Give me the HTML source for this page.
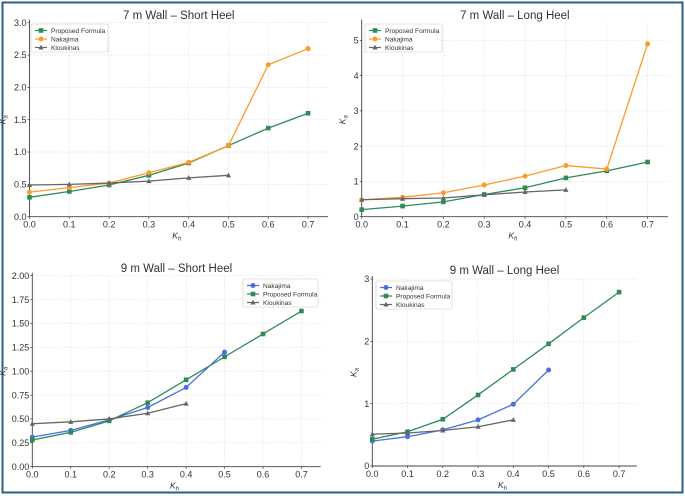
<!DOCTYPE html>
<html><head><meta charset="utf-8">
<style>
body{margin:0;background:#fff;}
svg{display:block;font-family:"Liberation Sans",sans-serif;}
</style></head>
<body>
<svg id="fig" width="685" height="496" viewBox="0 0 685 496" xmlns="http://www.w3.org/2000/svg">
<rect x="0" y="0" width="685" height="496" fill="#fff"/>
<rect x="2.5" y="2.5" width="680" height="490" fill="none" stroke="#2f5f80" stroke-width="2"/>
</svg>
<script>
const xCats=[0,0.1,0.2,0.3,0.4,0.5,0.6,0.7];
const p1Proposed=[0.30,0.39,0.49,0.64,0.83,1.10,1.37,1.60];
const p1Nakajima=[0.38,0.45,0.52,0.68,0.84,1.10,2.35,2.60];
const p1Kloukinas=[0.49,0.50,0.52,0.55,0.60,0.64];
const p2Proposed=[0.20,0.30,0.42,0.63,0.82,1.10,1.30,1.55];
const p2Nakajima=[0.48,0.55,0.68,0.90,1.15,1.45,1.35,4.90];
const p2Kloukinas=[0.48,0.51,0.53,0.62,0.70,0.76];
const p3Nakajima=[0.31,0.38,0.49,0.62,0.83,1.20];
const p3Proposed=[0.28,0.36,0.48,0.67,0.91,1.15,1.39,1.63];
const p3Kloukinas=[0.45,0.47,0.50,0.56,0.66];
const p4Nakajima=[0.40,0.47,0.58,0.74,0.99,1.54];
const p4Proposed=[0.43,0.55,0.75,1.14,1.55,1.96,2.38,2.79];
const p4Kloukinas=[0.51,0.53,0.57,0.63,0.74];
const xTicks=["0.0","0.1","0.2","0.3","0.4","0.5","0.6","0.7"];
const p1YTicks=["0.0","0.5","1.0","1.5","2.0","2.5","3.0"];
const p2YTicks=["0","1","2","3","4","5"];
const p3YTicks=["0.00","0.25","0.50","0.75","1.00","1.25","1.50","1.75","2.00"];
const p4YTicks=["0","1","2","3"];

const NS="http://www.w3.org/2000/svg";
const svg=document.getElementById('fig');
const C={green:"#2e8b57",orange:"#ff9a2a",gray:"#666666",blue:"#4a6fe3"};
function mk(tag,attrs,parent){const e=document.createElementNS(NS,tag);for(const k in attrs)e.setAttribute(k,attrs[k]);(parent||svg).appendChild(e);return e;}
function marker(g,type,x,y,color){
  let m;
  if(type==='s'){m=mk('rect',{x:x-2.3,y:y-2.3,width:4.6,height:4.6,fill:color},g);}
  else if(type==='o'){m=mk('circle',{cx:x,cy:y,r:2.5,fill:color},g);}
  else {m=mk('polygon',{points:`${x},${y-2.8} ${x-2.6},${y+2} ${x+2.6},${y+2}`,fill:color},g);}
  return m;
}
function panel(cfg){
  const g=mk('g',{});
  
  
  const sx=v=>cfg.x0+(v/0.75)*(cfg.x1-cfg.x0);
  const sy=v=>cfg.y0-(v/cfg.ymax)*(cfg.y0-cfg.y1);
  // grid
  xCats.forEach((v,i)=>{
    const gl=mk('line',{x1:sx(v),x2:sx(v),y1:cfg.y1,y2:cfg.y0,stroke:"#e4e4e4","stroke-width":0.7,"stroke-dasharray":"2,1.5"},g);
    
    
    const t=mk('text',{x:sx(v),y:cfg.y0+11,"font-size":9,fill:"#333","text-anchor":"middle"},g);
    t.textContent=xTicks[i];
    
    
    mk('line',{x1:sx(v),x2:sx(v),y1:cfg.y0,y2:cfg.y0+2,stroke:"#333","stroke-width":0.7},g);
  });
  cfg.yTicks.forEach(lab=>{
    const v=parseFloat(lab);const y=sy(v);
    const gl=mk('line',{x1:cfg.x0,x2:cfg.x1,y1:y,y2:y,stroke:"#e4e4e4","stroke-width":0.7,"stroke-dasharray":"2,1.5"},g);
    
    
    const t=mk('text',{x:cfg.x0-3,y:y+3.2,"font-size":9,fill:"#333","text-anchor":"end"},g);
    t.textContent=lab;
    
    
    mk('line',{x1:cfg.x0-2,x2:cfg.x0,y1:y,y2:y,stroke:"#333","stroke-width":0.7},g);
  });
  const ax=mk('path',{d:`M${cfg.x0},${cfg.y1-3} L${cfg.x0},${cfg.y0} L${cfg.x1},${cfg.y0}`,fill:"none",stroke:"#444","stroke-width":0.9},g);
  
  
  // series
  cfg.series.forEach(s=>{
    const sg=mk('g',{},g);
    
    
    const pts=s.data.map((v,i)=>sx(xCats[i])+","+sy(v)).join(" ");
    mk('polyline',{points:pts,fill:"none",stroke:s.color,"stroke-width":1.3},sg);
    s.data.forEach((v,i)=>{
      const m=marker(sg,s.m,sx(xCats[i]),sy(v),s.color);
      
      
    });
  });
  // title & axis labels
  const tt=mk('text',{x:(cfg.x0+cfg.x1)/2,y:cfg.titleY,"font-size":11.5,fill:"#333","text-anchor":"middle"},g);
  tt.textContent=cfg.title;
  
  
  const xl=mk('text',{x:(cfg.x0+cfg.x1)/2-2,y:cfg.y0+22,"font-size":8.5,fill:"#333","font-style":"italic","text-anchor":"middle"},g);
  xl.innerHTML='K<tspan font-size="6" dy="2">h</tspan>';
  
  
  const yx=cfg.x0-(cfg.ylabOff), yy=(cfg.y0+cfg.y1)/2;
  const yl=mk('text',{x:yx,y:yy,"font-size":8.5,fill:"#333","font-style":"italic","text-anchor":"middle",transform:`rotate(-90 ${yx} ${yy})`},g);
  yl.innerHTML='K<tspan font-size="6" dy="2">a</tspan>';
  
  
  // legend
  const L=cfg.legend;
  const lg=mk('g',{},g);
  
  
  mk('rect',{x:L.x,y:L.y,width:L.w,height:28,fill:"#fff",stroke:"#ccc","stroke-width":0.6,rx:1.5},lg);
  cfg.series.forEach((s,i)=>{
    const y=L.y+6.5+i*8.5;
    const le=mk('g',{},lg);
    
    
    mk('line',{x1:L.x+4,x2:L.x+16,y1:y,y2:y,stroke:s.color,"stroke-width":1.2},le);
    marker(le,s.m,L.x+10,y,s.color);
    const t=mk('text',{x:L.x+20,y:y+2.4,"font-size":6.6,fill:"#333"},le);
    t.textContent=s.label;
  });
}
panel({name:'chart-7m-short-heel',title:'7 m Wall – Short Heel',titleY:19,x0:29.5,x1:328,y0:216.7,y1:22.7,ymax:3.0,yTicks:p1YTicks,ylabOff:24,
  legend:{x:31,y:24,w:77},
  series:[{key:'proposed',label:'Proposed Formula',data:p1Proposed,color:C.green,m:'s'},
          {key:'nakajima',label:'Nakajima',data:p1Nakajima,color:C.orange,m:'o'},
          {key:'kloukinas',label:'Kloukinas',data:p1Kloukinas,color:C.gray,m:'t'}]});
panel({name:'chart-7m-long-heel',title:'7 m Wall – Long Heel',titleY:19,x0:361.7,x1:668,y0:216.7,y1:22.7,ymax:5.5,yTicks:p2YTicks,ylabOff:16,
  legend:{x:365,y:24,w:77},
  series:[{key:'proposed',label:'Proposed Formula',data:p2Proposed,color:C.green,m:'s'},
          {key:'nakajima',label:'Nakajima',data:p2Nakajima,color:C.orange,m:'o'},
          {key:'kloukinas',label:'Kloukinas',data:p2Kloukinas,color:C.gray,m:'t'}]});
panel({name:'chart-9m-short-heel',title:'9 m Wall – Short Heel',titleY:272,x0:32.3,x1:320.7,y0:466.7,y1:275.7,ymax:2.0,yTicks:p3YTicks,ylabOff:27,
  legend:{x:243,y:279,w:75},
  series:[{key:'nakajima',label:'Nakajima',data:p3Nakajima,color:C.blue,m:'o'},
          {key:'proposed',label:'Proposed Formula',data:p3Proposed,color:C.green,m:'s'},
          {key:'kloukinas',label:'Kloukinas',data:p3Kloukinas,color:C.gray,m:'t'}]});
panel({name:'chart-9m-long-heel',title:'9 m Wall – Long Heel',titleY:274,x0:372.3,x1:636.7,y0:466,y1:279,ymax:3.0,yTicks:p4YTicks,ylabOff:16,
  legend:{x:376,y:281,w:76},
  series:[{key:'nakajima',label:'Nakajima',data:p4Nakajima,color:C.blue,m:'o'},
          {key:'proposed',label:'Proposed Formula',data:p4Proposed,color:C.green,m:'s'},
          {key:'kloukinas',label:'Kloukinas',data:p4Kloukinas,color:C.gray,m:'t'}]});
</script>
</body></html>
